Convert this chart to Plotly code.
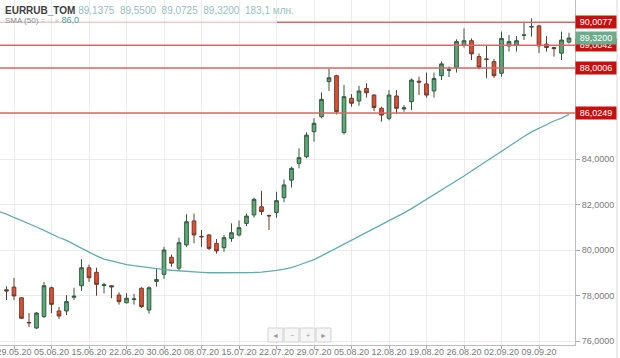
import plotly.graph_objects as go

# ---------------- data ----------------
all_dates = ['27.05.20', '28.05.20', '29.05.20',
             '01.06.20', '02.06.20', '03.06.20', '04.06.20', '05.06.20',
             '08.06.20', '09.06.20', '10.06.20', '11.06.20',
             '15.06.20', '16.06.20', '17.06.20', '18.06.20', '19.06.20',
             '22.06.20', '23.06.20', '25.06.20', '26.06.20',
             '29.06.20', '30.06.20', '02.07.20', '03.07.20',
             '06.07.20', '07.07.20', '08.07.20', '09.07.20', '10.07.20',
             '13.07.20', '14.07.20', '15.07.20', '16.07.20', '17.07.20',
             '20.07.20', '21.07.20', '22.07.20', '23.07.20', '24.07.20',
             '27.07.20', '28.07.20', '29.07.20', '30.07.20', '31.07.20',
             '03.08.20', '04.08.20', '05.08.20', '06.08.20', '07.08.20',
             '10.08.20', '11.08.20', '12.08.20', '13.08.20', '14.08.20',
             '17.08.20', '18.08.20', '19.08.20', '20.08.20', '21.08.20',
             '24.08.20', '25.08.20', '26.08.20', '27.08.20', '28.08.20',
             '31.08.20', '01.09.20', '02.09.20', '03.09.20', '04.09.20',
             '07.09.20', '08.09.20', '09.09.20', '10.09.20', '11.09.20',
             '14.09.20', '15.09.20']

candle_dates = all_dates[1:]

opens = [78.25, 78.37, 77.90, 76.82, 76.57, 77.07, 78.34, 77.32, 77.32, 77.92,
         78.43, 79.22, 79.02, 78.44, 78.43, 78.02, 77.68, 77.82, 78.32, 77.36,
         78.62, 78.93, 79.68, 79.20, 80.22, 81.28, 80.60, 80.66, 80.29, 80.10,
         80.51, 80.66, 81.17, 81.54, 81.90, 81.52, 81.65, 82.30, 83.07, 83.81,
         84.10, 85.20, 85.86, 87.40, 87.66, 85.16, 86.67, 86.55, 87.10, 86.81,
         86.23, 85.79, 86.77, 86.20, 86.52, 87.42, 87.30, 86.99, 87.66, 87.90,
         88.03, 89.00, 89.20, 88.50, 88.40, 88.28, 87.77, 88.97, 89.00, 89.43,
         89.80, 89.85, 89.05, 88.90, 88.65, 89.1375]
highs = [78.40, 78.77, 77.93, 77.23, 77.27, 78.60, 78.39, 77.50, 78.02, 78.34,
         79.60, 79.36, 79.22, 78.56, 78.45, 78.14, 78.10, 78.07, 78.36, 78.40,
         79.20, 80.14, 79.80, 80.54, 81.57, 81.60, 80.88, 80.70, 80.48, 80.66,
         81.17, 81.30, 81.60, 82.30, 82.60, 81.55, 82.56, 83.10, 83.66, 84.47,
         85.17, 85.79, 86.93, 87.96, 87.70, 87.25, 86.85, 87.22, 87.33, 86.85,
         86.30, 87.03, 87.03, 86.37, 87.54, 87.62, 87.80, 87.80, 88.29, 88.07,
         89.26, 89.74, 89.30, 88.64, 89.00, 88.40, 89.60, 89.45, 89.40, 90.03,
         90.18, 89.90, 89.40, 88.92, 89.60, 89.55]
lows = [77.80, 77.80, 76.97, 76.62, 76.53, 77.02, 77.22, 76.97, 77.14, 77.80,
        78.20, 78.60, 77.99, 78.09, 77.88, 77.60, 77.65, 77.60, 77.45, 77.20,
        78.39, 78.73, 79.27, 79.10, 80.14, 80.30, 80.14, 80.00, 79.84, 79.92,
        80.36, 80.60, 81.05, 81.42, 81.54, 80.88, 81.42, 82.10, 82.74, 83.59,
        84.03, 84.76, 85.79, 86.99, 85.96, 85.08, 86.30, 86.34, 86.70, 86.10,
        85.64, 85.70, 86.00, 86.08, 86.15, 86.81, 86.70, 86.70, 87.47, 87.60,
        87.80, 88.90, 88.35, 87.94, 87.55, 87.57, 87.62, 88.72, 88.72, 89.23,
        89.38, 88.66, 88.72, 88.50, 88.35, 89.0725]
closes = [78.20, 77.98, 77.00, 76.80, 77.23, 78.43, 77.61, 77.10, 77.73, 77.97,
          79.22, 78.78, 78.49, 78.47, 78.38, 77.73, 77.88, 77.85, 77.51, 78.34,
          78.70, 80.00, 79.42, 80.32, 81.24, 80.66, 80.58, 80.07, 79.96, 80.54,
          80.76, 80.98, 81.49, 82.23, 81.69, 81.50, 82.17, 82.86, 83.59, 84.06,
          85.05, 85.57, 86.62, 87.57, 86.08, 86.74, 86.45, 86.99, 86.91, 86.26,
          85.93, 86.81, 86.23, 86.25, 87.47, 87.38, 86.81, 87.54, 88.18, 87.92,
          89.16, 89.20, 88.62, 88.03, 88.38, 87.66, 89.30, 89.16, 89.20, 89.45,
          89.82, 88.97, 88.90, 88.85, 89.23, 89.32]

sma50 = [81.69, 81.58, 81.43, 81.30, 81.16, 81.01, 80.86, 80.70, 80.55, 80.42,
         80.26, 80.09, 79.91, 79.74, 79.60, 79.52, 79.43, 79.36, 79.31, 79.26,
         79.22, 79.19, 79.14, 79.11, 79.08, 79.05, 79.04, 79.02, 79.00, 79.00,
         78.99, 78.99, 78.99, 79.00, 79.01, 79.03, 79.05, 79.10, 79.16, 79.23,
         79.34, 79.45, 79.58, 79.74, 79.91, 80.09, 80.24, 80.42, 80.59, 80.77,
         80.95, 81.10, 81.27, 81.45, 81.63, 81.82, 82.02, 82.22, 82.42, 82.64,
         82.84, 83.03, 83.25, 83.47, 83.69, 83.91, 84.13, 84.35, 84.57, 84.79,
         84.99, 85.19, 85.36, 85.52, 85.67, 85.80, 85.96]

tick_dates = ['29.05.20', '05.06.20', '15.06.20', '22.06.20', '30.06.20',
              '08.07.20', '15.07.20', '22.07.20', '29.07.20', '05.08.20',
              '12.08.20', '19.08.20', '26.08.20', '02.09.20', '09.09.20']

y_tick_vals = [76, 78, 80, 82, 84, 86, 88, 90]
y_tick_text = ['76,0000', '78,0000', '80,0000', '82,0000', '84,0000', '', '', '']

levels = [90.0077, 89.0042, 88.0006, 86.0249]
level_labels = ['90,0077', '89,0042', '88,0006', '86,0249']
last_price = 89.32
last_label = '89,3200'

header_ohlc = '89,1375&nbsp;&nbsp;89,5500&nbsp;&nbsp;89,0725&nbsp;&nbsp;89,3200&nbsp;&nbsp;183,1 млн.'
sma_label = '86,0'

# ---------------- figure ----------------
W, H = 620, 358
ML, MR, MT, MB = 0, 45, 0, 13
PW = W - ML - MR
PH = H - MT - MB

FONT = 'Arial, Liberation Sans, sans-serif'

fig = go.Figure()

fig.add_trace(go.Scatter(
    x=all_dates, y=sma50, mode='lines',
    line=dict(color='#5fadb1', width=1.3),
    hoverinfo='skip', showlegend=False))

fig.add_trace(go.Candlestick(
    x=candle_dates, open=opens, high=highs, low=lows, close=closes,
    increasing=dict(line=dict(color='#35573f', width=1), fillcolor='#5bab79'),
    decreasing=dict(line=dict(color='#6b3a2e', width=1), fillcolor='#e14f30'),
    whiskerwidth=0, showlegend=False))

shapes = []
# level lines
for i, lv in enumerate(levels):
    if i == 0:
        shapes.append(dict(type='line', xref='paper', yref='y', x0=0, x1=277 / PW,
                           y0=lv, y1=lv, line=dict(color='rgba(225,90,90,0.25)', width=1.5)))
        shapes.append(dict(type='line', xref='paper', yref='y', x0=277 / PW, x1=1,
                           y0=lv, y1=lv, line=dict(color='#e06464', width=1.5)))
    else:
        shapes.append(dict(type='line', xref='paper', yref='y', x0=0, x1=1,
                           y0=lv, y1=lv, line=dict(color='#e06464', width=1.5)))

# outer right vertical line
shapes.append(dict(type='line', xref='paper', yref='paper', x0=617 / PW, x1=617 / PW,
                   y0=-MB / PH, y1=1, line=dict(color='#d8d8d8', width=1)))

# navigation buttons
btn_syms = ['◄', '−', '+', '►']
btn_x = [268, 284, 300, 316]
annotations = []
for bx, sym in zip(btn_x, btn_syms):
    shapes.append(dict(type='rect', xref='paper', yref='paper',
                       x0=bx / PW, x1=(bx + 15) / PW,
                       y0=(345 - 342) / PH, y1=(345 - 328) / PH,
                       line=dict(color='#d2d2d2', width=1), fillcolor='#f6f6f6'))
    annotations.append(dict(xref='paper', yref='paper', x=(bx + 7.5) / PW,
                            y=(345 - 335) / PH, text=sym, showarrow=False,
                            font=dict(family=FONT, size=7, color='#9a9a9a'),
                            xanchor='center', yanchor='middle'))

# header
annotations.append(dict(xref='paper', yref='paper', x=3 / PW, y=1 - 10 / PH,
                        xanchor='left', yanchor='middle', showarrow=False,
                        text="<b>EURRUB_TOM</b> <span style='color:#96bfc0'>" + header_ohlc + "</span>",
                        font=dict(family=FONT, size=10, color='#404040')))
annotations.append(dict(xref='paper', yref='paper', x=3 / PW, y=1 - 20.5 / PH,
                        xanchor='left', yanchor='middle', showarrow=False,
                        text="SMA (50) <span style='color:#c0c0c0'>= ○ ×</span> <span style='color:#3f9ea3;font-size:9px'>" + sma_label + "</span>",
                        font=dict(family=FONT, size=8, color='#888888')))

# price labels on the right
for lv, lab in zip(levels, level_labels):
    annotations.append(dict(xref='paper', yref='y', x=1, y=lv, xanchor='left',
                            yanchor='middle', showarrow=False, text=lab,
                            font=dict(family=FONT, size=9, color='white'),
                            bgcolor='#c80f0f', borderpad=1, width=38, height=10,
                            align='center'))
annotations.append(dict(xref='paper', yref='y', x=1, y=last_price, xanchor='left',
                        yanchor='middle', showarrow=False, text=last_label,
                        font=dict(family=FONT, size=9, color='white'),
                        bgcolor='#6cab8c', borderpad=1, width=38, height=10,
                        align='center'))

# range in category units
x0_range = (ML + 1) / 7.5
x1_range = (PW + 1) / 7.5
y_low = 76 - (345 - 341) / 22.75
y_high = 76 + 341 / 22.75

fig.update_layout(
    width=W, height=H,
    margin=dict(l=ML, r=MR, t=MT, b=MB, autoexpand=False),
    paper_bgcolor='white', plot_bgcolor='white',
    shapes=shapes, annotations=annotations,
    showlegend=False,
    font=dict(family=FONT, size=9, color='#777777'),
    xaxis=dict(type='category', categoryorder='array', categoryarray=all_dates,
               range=[x0_range, x1_range], rangeslider=dict(visible=False),
               tickmode='array', tickvals=tick_dates, ticktext=tick_dates,
               showgrid=True, gridcolor='#ececec', gridwidth=1,
               showline=True, linecolor='#bdbdbd', linewidth=1,
               ticks='outside', ticklen=3, tickcolor='#aaaaaa',
               ticklabelstandoff=-5,
               tickfont=dict(family=FONT, size=9, color='#7a7a7a'),
               zeroline=False, fixedrange=True, automargin=False, tickangle=0),
    yaxis=dict(side='right', range=[y_low, y_high],
               tickmode='array', tickvals=y_tick_vals, ticktext=y_tick_text,
               showgrid=True, gridcolor='#ececec', gridwidth=1,
               showline=True, linecolor='#bdbdbd', linewidth=1,
               ticks='outside', ticklen=4, tickcolor='#aaaaaa',
               tickfont=dict(family=FONT, size=9, color='#7a7a7a'),
               zeroline=False, automargin=False),
)

fig.write_html('out.html')
